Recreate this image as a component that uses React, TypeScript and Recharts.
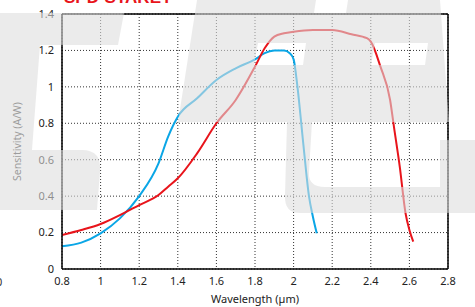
import React from "react";
import { LineChart, Line, XAxis, YAxis, CartesianGrid, ReferenceLine } from "recharts";

const xTicks = [0.8, 1, 1.2, 1.4, 1.6, 1.8, 2, 2.2, 2.4, 2.6, 2.8];
const yTicks = [0, 0.2, 0.4, 0.6, 0.8, 1, 1.2, 1.4];

const blueX = [0.8, 0.9, 1.0, 1.1, 1.2, 1.3, 1.35, 1.4, 1.5, 1.6, 1.7, 1.8, 1.85, 1.9, 1.95, 1.98, 2.0, 2.02, 2.05, 2.08, 2.1, 2.12];
const blueY = [0.125, 0.145, 0.196, 0.278, 0.4, 0.58, 0.727, 0.836, 0.937, 1.038, 1.102, 1.151, 1.185, 1.199, 1.2, 1.185, 1.151, 1.0, 0.69, 0.397, 0.287, 0.196];

const redX = [0.8, 0.9, 1.0, 1.1, 1.2, 1.3, 1.35, 1.4, 1.5, 1.6, 1.7, 1.8, 1.85, 1.9, 1.95, 2.0, 2.1, 2.2, 2.3, 2.38, 2.4, 2.45, 2.5, 2.52, 2.55, 2.58, 2.6, 2.62];
const redY = [0.187, 0.214, 0.247, 0.296, 0.351, 0.406, 0.452, 0.498, 0.635, 0.8, 0.928, 1.111, 1.212, 1.276, 1.294, 1.303, 1.312, 1.312, 1.289, 1.267, 1.248, 1.111, 0.928, 0.78, 0.562, 0.306, 0.214, 0.15];

const blueData = blueX.map((x, i) => ({ x, y: blueY[i] }));
const redData = redX.map((x, i) => ({ x, y: redY[i] }));

const FONT = "'Noto Sans', 'Open Sans', sans-serif";

export default function App() {
  return (
    <div style={{ position: "absolute", left: 0, top: 0, width: 475, height: 307, background: "#fff", overflow: "hidden" }}>
      <svg width={475} height={307} style={{ position: "absolute", left: 0, top: 0 }}>
        <text x={64} y={3} fill="#e8141b" fontFamily="Arial, 'Liberation Sans', sans-serif" fontWeight="bold" fontSize={17}>SPD-STAREY</text>
        <text x={-4} y={286} fill="#333" fontFamily={FONT} fontSize={11}>0</text>
      </svg>
      <div style={{ position: "absolute", left: 0, top: 0 }}>
        <LineChart width={475} height={307} margin={{ top: 14, right: 27, bottom: 0, left: 0 }}>
          <CartesianGrid stroke="#333" strokeDasharray="1 2" strokeWidth={1} />
          <XAxis
            type="number"
            dataKey="x"
            domain={[0.8, 2.8]}
            ticks={xTicks}
            allowDataOverflow
            height={38}
            tickLine={false}
            axisLine={{ stroke: "#000", strokeWidth: 1.5 }}
            tick={{ fill: "#222", fontSize: 11, fontFamily: FONT }}
            label={{ value: "Wavelength (µm)", position: "insideBottom", offset: 4, fill: "#222", fontSize: 11, fontFamily: FONT }}
          />
          <YAxis
            type="number"
            domain={[0, 1.4]}
            ticks={yTicks}
            allowDataOverflow
            width={62}
            tickLine={false}
            axisLine={{ stroke: "#000", strokeWidth: 1.5 }}
            tick={{ fill: "#222", fontSize: 11, fontFamily: FONT }}
            label={{ value: "Sensitivity (A/W)", angle: -90, position: "insideLeft", offset: 17, fill: "#444", fontSize: 10.5, fontFamily: FONT, style: { textAnchor: "middle" } }}
          />
          <ReferenceLine y={1.4} stroke="#000" strokeWidth={1.5} />
          <ReferenceLine x={2.8} stroke="#000" strokeWidth={1.5} />
          <Line data={blueData} dataKey="y" type="monotone" stroke="#0aa6e6" strokeWidth={2} dot={false} isAnimationActive={false} />
          <Line data={redData} dataKey="y" type="monotone" stroke="#e8141b" strokeWidth={2} dot={false} isAnimationActive={false} />
        </LineChart>
      </div>
      <svg width={475} height={307} style={{ position: "absolute", left: 0, top: 0, pointerEvents: "none" }}>
        <g fill="#dddddd" fillOpacity={0.58} fillRule="evenodd">
          <path d="M0,13 L124,13 L118,45 L40,45 L32,150 L82,150 Q102,150 100,172 L97,210 L0,210 Z" />
          <path d="M197,0 L440,0 L449,122 L178,122 Z M258,43 L306,43 L303,65 L254,65 Z M375,43 L428,43 L425,65 L371,65 Z M316,0 L348,0 L346,13 L314,13 Z" />
          <path d="M287,122 L312,122 L309,172 Q308,187 325,187 L440,187 L440,140 L475,140 L475,213 L300,213 Q284,213 285,195 Z" />
        </g>
      </svg>
    </div>
  );
}
